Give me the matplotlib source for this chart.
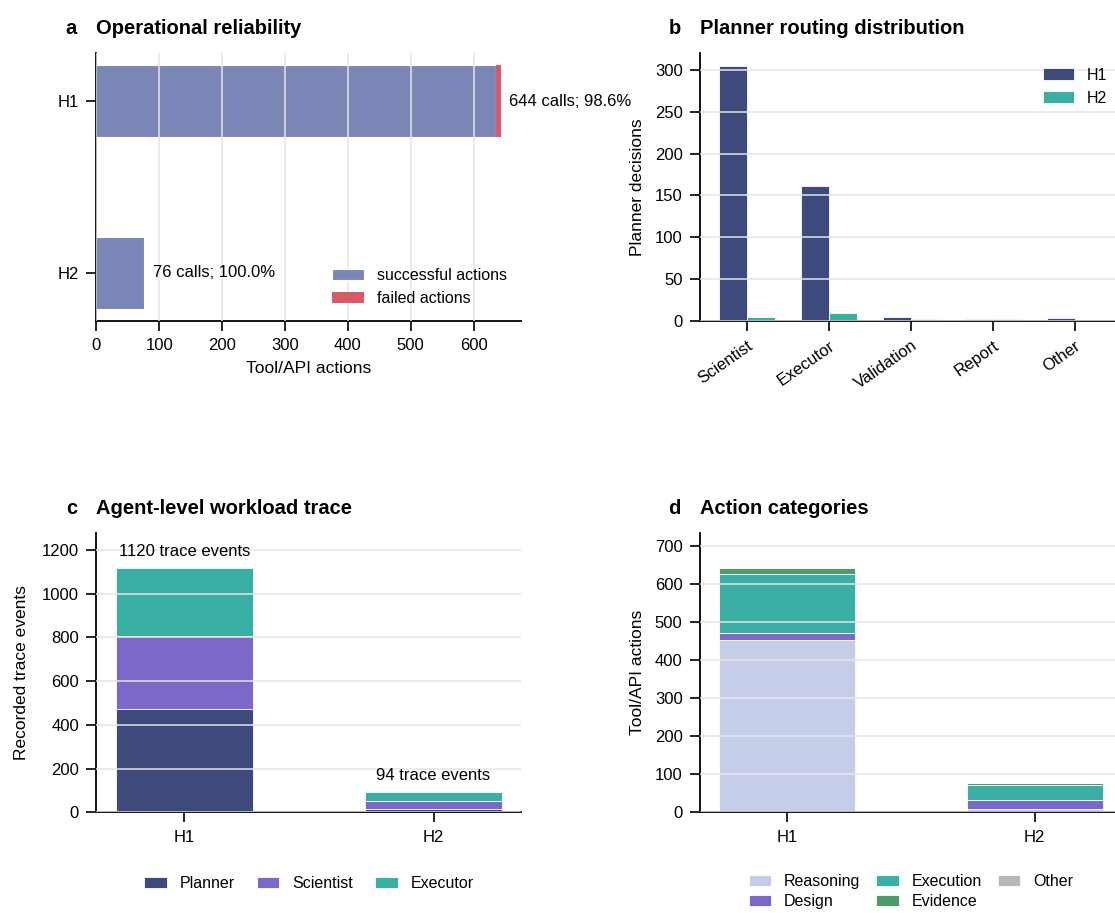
import matplotlib
matplotlib.use('Agg')
import matplotlib.pyplot as plt
import numpy as np

plt.rcParams['font.family'] = ['Liberation Sans', 'DejaVu Sans']

# ---------------- data ----------------
# Panel a: operational reliability
runs = ['H1', 'H2']
total_calls = [644, 76]
failed_calls = [9, 0]
success_rate = [98.6, 100.0]

# Panel b: planner routing distribution
routing_targets = ['Scientist', 'Executor', 'Validation', 'Report', 'Other']
routing_h1 = [305, 161, 5, 2, 3]
routing_h2 = [5, 9, 2, 2, 0]

# Panel c: agent-level workload trace
agents = ['Planner', 'Scientist', 'Executor']
trace_planner = [475, 16]
trace_scientist = [330, 36]
trace_executor = [315, 42]

# Panel d: action categories
action_cats = ['Reasoning', 'Design', 'Execution', 'Evidence', 'Other']
act_reasoning = [454, 8]
act_design = [17, 25]
act_execution = [157, 38]
act_evidence = [16, 5]
act_other = [0, 0]

# ---------------- style ----------------
NAVY = '#3E4A7B'
TEAL = '#3AAFA3'
PURPLE = '#7B68C8'
LAVENDER = '#C5CDE8'
GREEN = '#4E9A6A'
GRAY = '#B8B8B8'
SUCCESS = '#7A86B6'
FAIL = '#D95A66'
GRID = '#e6e6e6'

TICK_FS = 12
LABEL_FS = 12.5
TITLE_FS = 14.5
LEG_FS = 11.5

W, H = 1115, 913
fig = plt.figure(figsize=(W / 100, H / 100), dpi=100)


def axes_px(x0, x1, y0, y1):
    return fig.add_axes([x0 / W, (H - y1) / H, (x1 - x0) / W, (y1 - y0) / H])


def style(ax, letter, title, grid_axis):
    for s in ['top', 'right']:
        ax.spines[s].set_visible(False)
    for s in ['left', 'bottom']:
        ax.spines[s].set_linewidth(1.3)
        ax.spines[s].set_color('black')
    ax.tick_params(length=7, width=1.2, pad=5.5, labelsize=TICK_FS, color='black')
    ax.set_axisbelow(False)
    ax.grid(axis=grid_axis, color=GRID, linewidth=1.1)
    ax.set_title(title, loc='left', fontsize=TITLE_FS, fontweight='bold', pad=14)
    ax.annotate(letter, xy=(0, 1), xycoords='axes fraction', xytext=(-14, 14),
                textcoords='offset points', ha='right', va='baseline',
                fontsize=TITLE_FS, fontweight='bold')


ax_a = axes_px(96.4, 521.4, 53.3, 320.7)
ax_b = axes_px(700, 1122, 53.3, 320.7)
ax_c = axes_px(96.4, 521.4, 533.3, 812.3)
ax_d = axes_px(700, 1122, 533.3, 812.3)

# ---------------- panel a ----------------
ya = np.arange(len(runs))
success = [t - f for t, f in zip(total_calls, failed_calls)]
ax_a.barh(ya, success, height=0.42, color=SUCCESS, edgecolor='white', linewidth=0.8,
          label='successful actions')
ax_a.barh(ya, failed_calls, left=success, height=0.42, color=FAIL, edgecolor='white',
          linewidth=0.0, label='failed actions')
for y, t, r in zip(ya, total_calls, success_rate):
    ax_a.annotate(f'{t} calls; {r:.1f}%', xy=(t, y), xytext=(6, 0), textcoords='offset points',
                  ha='left', va='center', fontsize=TICK_FS)
ax_a.set_yticks(ya)
ax_a.set_yticklabels(runs)
ax_a.invert_yaxis()
ax_a.set_xticks([0, 100, 200, 300, 400, 500, 600])
ax_a.set_xlabel('Tool/API actions', fontsize=LABEL_FS, labelpad=6)
style(ax_a, 'a', 'Operational reliability', 'x')
ax_a.legend(loc='lower right', frameon=False, fontsize=LEG_FS)

# ---------------- panel b ----------------
xb = np.arange(len(routing_targets))
wb = 0.34
ax_b.bar(xb - wb / 2, routing_h1, width=wb, color=NAVY, edgecolor='white', linewidth=0.6, label='H1')
ax_b.bar(xb + wb / 2, routing_h2, width=wb, color=TEAL, edgecolor='white', linewidth=0.6, label='H2')
ax_b.set_xticks(xb)
ax_b.set_xticklabels(routing_targets, rotation=35, ha='right', rotation_mode='anchor')
ax_b.set_yticks([0, 50, 100, 150, 200, 250, 300])
ax_b.set_ylabel('Planner decisions', fontsize=LABEL_FS, labelpad=7)
style(ax_b, 'b', 'Planner routing distribution', 'y')
ax_b.legend(loc='upper right', frameon=False, fontsize=LEG_FS)

# ---------------- panel c ----------------
xc = np.arange(len(runs))
wc = 0.55
bottom = np.zeros(len(runs))
for name, vals, col in zip(agents, [trace_planner, trace_scientist, trace_executor], [NAVY, PURPLE, TEAL]):
    ax_c.bar(xc, vals, width=wc, bottom=bottom, color=col, edgecolor='white', linewidth=0.6, label=name)
    bottom = bottom + np.array(vals)
ymax_c = bottom.max() * 1.14
ax_c.set_ylim(0, ymax_c)
for x, tot in zip(xc, bottom):
    ax_c.text(x, tot + 0.03 * ymax_c, f'{int(tot)} trace events', ha='center', va='bottom', fontsize=TICK_FS)
ax_c.set_xticks(xc)
ax_c.set_xticklabels(runs)
ax_c.set_yticks([0, 200, 400, 600, 800, 1000, 1200])
ax_c.set_ylabel('Recorded trace events', fontsize=LABEL_FS, labelpad=9)
style(ax_c, 'c', 'Agent-level workload trace', 'y')
ax_c.legend(loc='upper center', bbox_to_anchor=(0.5, -0.205), borderaxespad=0, ncol=3, frameon=False,
            fontsize=LEG_FS, handlelength=1.4, columnspacing=1.4)

# ---------------- panel d ----------------
xd = np.arange(len(runs))
bottom = np.zeros(len(runs))
for name, vals, col in zip(action_cats, [act_reasoning, act_design, act_execution, act_evidence, act_other],
                           [LAVENDER, PURPLE, TEAL, GREEN, GRAY]):
    ax_d.bar(xd, vals, width=wc, bottom=bottom, color=col, edgecolor='white', linewidth=0.6, label=name)
    bottom = bottom + np.array(vals)
ax_d.set_ylim(0, bottom.max() * 1.14)
ax_d.set_xticks(xd)
ax_d.set_xticklabels(runs)
ax_d.set_yticks([0, 100, 200, 300, 400, 500, 600, 700])
ax_d.set_ylabel('Tool/API actions', fontsize=LABEL_FS, labelpad=7)
style(ax_d, 'd', 'Action categories', 'y')
ax_d.legend(loc='upper center', bbox_to_anchor=(0.5, -0.198), borderaxespad=0, ncol=3, frameon=False,
            fontsize=LEG_FS, handlelength=1.4, columnspacing=1.0, labelspacing=0.3)

fig.savefig('out.png', dpi=100)
